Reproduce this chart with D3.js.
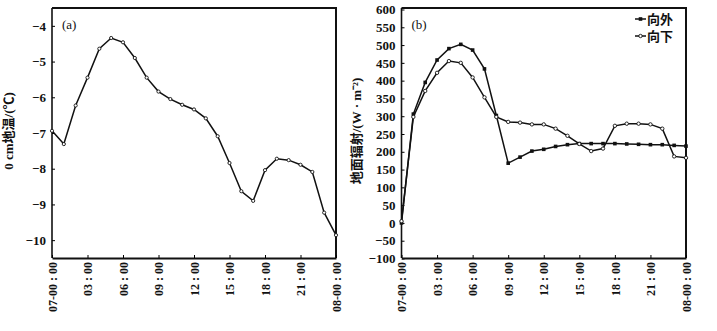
<!DOCTYPE html>
<html>
<head>
<meta charset="utf-8">
<script src="https://d3js.org/d3.v7.min.js"></script>
<style>
  body { margin: 0; background: #fff; }
  svg { display: block; }
  text { font-family: "Liberation Serif", "Noto Sans CJK SC", serif; fill: #111; }
</style>
</head>
<body>
<script>
// hours 0..24, one point per hour
const hours = d3.range(0, 25);
const xTicks = [0, 3, 6, 9, 12, 15, 18, 21, 24];
const xTickLabels = ['07-00 : 00', '03 : 00', '06 : 00', '09 : 00', '12 : 00', '15 : 00', '18 : 00', '21 : 00', '08-00 : 00'];

// (a) 0 cm ground temperature
const soilTemp = [-6.94, -7.31, -6.23, -5.45, -4.64, -4.34, -4.46, -4.9, -5.45, -5.84, -6.05, -6.21,
  -6.34, -6.59, -7.09, -7.84, -8.63, -8.9, -8.04, -7.72, -7.76, -7.89, -8.09, -9.23, -9.86];
const tempTicks = [-4, -5, -6, -7, -8, -9, -10];

// (b) ground radiation
const outward = [0, 306, 395, 458, 490, 502, 486, 433, 302, 168, 185, 202, 207, 215, 220, 223,
  223, 223, 223, 222, 221, 220, 220, 218, 216];
const downward = [5, 298, 371, 422, 455, 450, 409, 353, 298, 284, 282, 277, 277, 265, 245, 222,
  202, 209, 273, 279, 279, 277, 265, 187, 183];
const radTicks = d3.range(-100, 601, 50);
const seriesNames = ['向外', '向下'];

const W = 717, H = 331;
const svg = d3.select('body').append('svg').attr('width', W).attr('height', H);
svg.append('rect').attr('width', W).attr('height', H).attr('fill', '#fff');

function panel(x0, x1, y, ticks, fmt, ylabel, ylabelX, tag) {
  const top = 8, bottom = 258;
  const x = d3.scaleLinear().domain([0, 24]).range([x0, x1]);
  const g = svg.append('g');

  // frame
  g.append('path')
    .attr('d', `M${x0},${top}H${x1}V${bottom}`)
    .attr('fill', 'none').attr('stroke', '#111').attr('stroke-width', 2);

  const ya = g.append('g').attr('transform', `translate(${x0},0)`)
    .call(d3.axisLeft(y).tickValues(ticks).tickFormat(fmt).tickSizeInner(-3).tickSizeOuter(0).tickPadding(6));
  ya.select('.domain').attr('stroke', '#111').attr('stroke-width', 1.6)
    .attr('d', `M0,${top}V${bottom}`);
  ya.selectAll('text').attr('font-size', 13).attr('font-weight', 'bold');

  const xa = g.append('g').attr('transform', `translate(0,${bottom})`)
    .call(d3.axisBottom(x).tickValues(xTicks).tickFormat((d, i) => xTickLabels[i]).tickSizeInner(-3).tickSizeOuter(0));
  xa.select('.domain').attr('stroke', '#111').attr('stroke-width', 2);
  xa.selectAll('text')
    .attr('font-size', 12).attr('font-weight', 'bold')
    .attr('text-anchor', 'end')
    .attr('transform', 'rotate(-90)')
    .attr('x', -4).attr('y', 0).attr('dy', '0.35em');

  svg.append('text')
    .attr('transform', `translate(${ylabelX},${(top + bottom) / 2 - 2}) rotate(-90)`)
    .attr('text-anchor', 'middle').attr('font-size', 13).attr('font-weight', 'bold')
    .text(ylabel);

  svg.append('text').attr('x', x0 + 10).attr('y', 29)
    .attr('font-size', 13).text(tag);
  return x;
}

// panel (a)
const yA = d3.scaleLinear().domain([-10.5, -3.5]).range([258, 8]);
const xA = panel(52, 336, yA, tempTicks, d => d3.format('')(d).replace('-', '−'), '0 cm地温/(℃)', 13, '(a)');
svg.append('path').datum(soilTemp)
  .attr('d', d3.line().x((d, i) => xA(hours[i])).y(d => yA(d)))
  .attr('fill', 'none').attr('stroke', '#111').attr('stroke-width', 1.5);
svg.append('g').selectAll('circle').data(soilTemp).join('circle')
  .attr('cx', (d, i) => xA(hours[i])).attr('cy', d => yA(d)).attr('r', 1.6)
  .attr('fill', '#fff').attr('stroke', '#111').attr('stroke-width', 0.9);

// panel (b)
const yB = d3.scaleLinear().domain([-100, 600]).range([258.5, 9.5]);
const xB = panel(401.5, 686, yB, radTicks, d => String(d).replace('-', '−'), '地面辐射/(W · m⁻²)', 361, '(b)');
const line = d3.line().x((d, i) => xB(hours[i])).y(d => yB(d));
[outward, downward].forEach(s => {
  svg.append('path').datum(s).attr('d', line)
    .attr('fill', 'none').attr('stroke', '#111').attr('stroke-width', 1.5);
});
svg.append('g').selectAll('rect').data(outward).join('rect')
  .attr('x', (d, i) => xB(hours[i]) - 1.8).attr('y', d => yB(d) - 1.8)
  .attr('width', 3.6).attr('height', 3.6).attr('fill', '#111');
svg.append('g').selectAll('circle').data(downward).join('circle')
  .attr('cx', (d, i) => xB(hours[i])).attr('cy', d => yB(d)).attr('r', 1.7)
  .attr('fill', '#fff').attr('stroke', '#111').attr('stroke-width', 0.9);

// legend
const leg = svg.append('g').attr('transform', 'translate(635,19)');
seriesNames.forEach((name, i) => {
  const g = leg.append('g').attr('transform', `translate(0,${i * 17})`);
  g.append('line').attr('x1', 0).attr('x2', 11).attr('stroke', '#111').attr('stroke-width', 1.5);
  if (i === 0) {
    g.append('rect').attr('x', 3.7).attr('y', -1.8).attr('width', 3.6).attr('height', 3.6).attr('fill', '#111');
  } else {
    g.append('circle').attr('cx', 5.5).attr('r', 1.7).attr('fill', '#fff').attr('stroke', '#111').attr('stroke-width', 0.9);
  }
  g.append('text').attr('x', 12).attr('dy', '0.38em').attr('font-size', 13).attr('font-weight', 'bold').text(name);
});
</script>
</body>
</html>
